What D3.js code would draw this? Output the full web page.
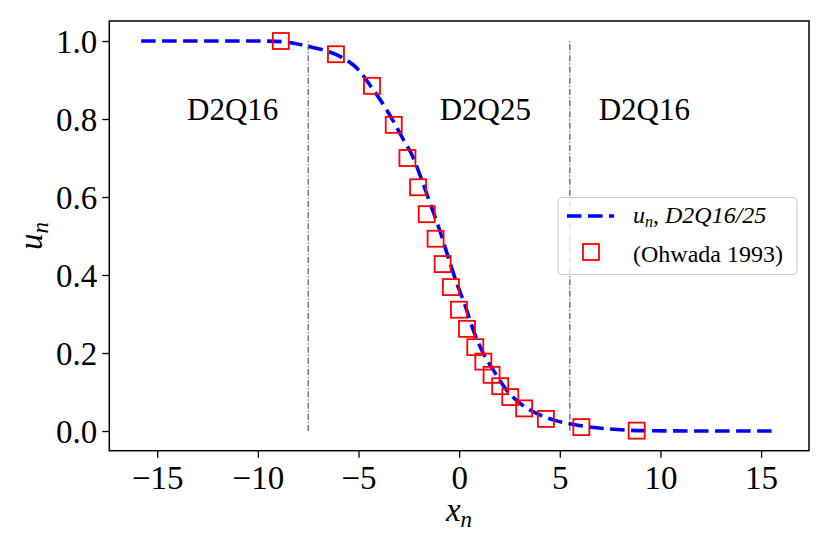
<!DOCTYPE html>
<html>
<head>
<meta charset="utf-8">
<script src="https://cdn.jsdelivr.net/npm/d3@7/dist/d3.min.js"></script>
<style>
  html, body { margin: 0; padding: 0; background: #fff; }
  svg { display: block; }
  text { font-family: "Liberation Serif", "DejaVu Serif", serif; fill: #000; }
</style>
</head>
<body>
<svg id="chart" width="830" height="550"></svg>
<script>
// ---- data ----
const lineX = [-15.8, -10, -8.7, -7.5, -6.5, -5.9, -5.0, -4.3, -3.8, -3.3, -2.8, -2.3, -1.9, -1.45, -1.0, -0.6, -0.12, 0.29, 0.7, 1.2, 1.7, 2.36, 3.0, 3.85, 4.85, 6.0, 7.5, 9.1, 12.0, 15.8];
const lineY = [1.0, 1.0, 0.998, 0.986, 0.973, 0.960, 0.926, 0.877, 0.840, 0.797, 0.750, 0.703, 0.650, 0.585, 0.520, 0.455, 0.379, 0.323, 0.259, 0.199, 0.156, 0.105, 0.072, 0.045, 0.026, 0.014, 0.005, 0.001, 0.0, 0.0];
const ohwadaX = [-8.86, -6.12, -4.33, -3.25, -2.57, -2.04, -1.61, -1.17, -0.82, -0.41, -0.01, 0.39, 0.80, 1.20, 1.61, 2.04, 2.54, 3.23, 4.31, 6.07, 8.82];
const ohwadaY = [1.0, 0.966, 0.885, 0.785, 0.700, 0.625, 0.556, 0.493, 0.428, 0.369, 0.311, 0.262, 0.215, 0.178, 0.144, 0.115, 0.087, 0.058, 0.031, 0.010, 0.001];
const xTicks = [-15, -10, -5, 0, 5, 10, 15];
const yTicks = [0.0, 0.2, 0.4, 0.6, 0.8, 1.0];
const boundaryX = [-7.5, 5.5];
const regionNames = ["D2Q16", "D2Q25", "D2Q16"];
const regionX = [-11.25, 1.3, 9.2];
const regionY = [0.798, 0.798, 0.798];

// ---- layout ----
const L = 109.3, R = 809, T = 21, B = 450.7;
const svg = d3.select("#chart");
const x = d3.scaleLinear().domain([-17.38, 17.38]).range([L, R]);
const y = d3.scaleLinear().domain([-0.0505, 1.0513]).range([B, T]);

// boundaries (dash-dot)
svg.append("g").selectAll("line").data(boundaryX).join("line")
  .attr("x1", d => x(d)).attr("x2", d => x(d))
  .attr("y1", y(0)).attr("y2", y(1))
  .attr("stroke", "#333").attr("stroke-width", 1)
  .attr("stroke-dasharray", "6,2,1.2,2");

// region labels
svg.append("g").selectAll("text").data(regionNames).join("text")
  .attr("x", (d, i) => x(regionX[i])).attr("y", (d, i) => y(regionY[i]))
  .attr("text-anchor", "middle").attr("font-size", 31)
  .text(d => d);

// line
const pts = lineX.map((v, i) => [v, lineY[i]]);
svg.append("path").datum(pts)
  .attr("d", d3.line().x(d => x(d[0])).y(d => y(d[1])).curve(d3.curveMonotoneX))
  .attr("fill", "none").attr("stroke", "#0000ff").attr("stroke-width", 3.6)
  .attr("stroke-dasharray", "14.5,6.5");

// squares
const sq = 16;
svg.append("g").selectAll("rect").data(ohwadaX.map((v, i) => [v, ohwadaY[i]])).join("rect")
  .attr("x", d => x(d[0]) - sq / 2).attr("y", d => y(d[1]) - sq / 2)
  .attr("width", sq).attr("height", sq)
  .attr("fill", "none").attr("stroke", "#ff0000").attr("stroke-width", 1.8);

// axes
const xAxis = svg.append("g").attr("transform", `translate(0,${B})`)
  .call(d3.axisBottom(x).tickValues(xTicks).tickSize(7).tickFormat(d3.format("d")));
xAxis.select(".domain").remove();
xAxis.selectAll(".tick line").attr("stroke-width", 1.3);
xAxis.selectAll(".tick text").attr("y", 38).attr("dy", null)
  .attr("font-size", 33).attr("font-family", "Liberation Serif, serif");

const yAxis = svg.append("g").attr("transform", `translate(${L},0)`)
  .call(d3.axisLeft(y).tickValues(yTicks).tickSize(7).tickFormat(d3.format(".1f")));
yAxis.select(".domain").remove();
yAxis.selectAll(".tick line").attr("stroke-width", 1.3);
yAxis.selectAll(".tick text").attr("x", -12).attr("dy", "0.34em")
  .attr("font-size", 33).attr("font-family", "Liberation Serif, serif");

// frame
svg.append("rect").attr("x", L).attr("y", T).attr("width", R - L).attr("height", B - T)
  .attr("fill", "none").attr("stroke", "#000").attr("stroke-width", 1.5);

// axis labels
const xl = svg.append("text").attr("x", 459).attr("y", 521).attr("text-anchor", "middle")
  .attr("font-size", 33).attr("font-style", "italic");
xl.append("tspan").text("x");
xl.append("tspan").attr("font-size", 23).attr("dy", 6).text("n");

const yl = svg.append("text").attr("transform", "translate(42,236) rotate(-90)")
  .attr("text-anchor", "middle").attr("font-size", 33).attr("font-style", "italic");
yl.append("tspan").text("u");
yl.append("tspan").attr("font-size", 23).attr("dy", 6).text("n");

// legend
const lg = svg.append("g");
lg.append("rect").attr("x", 558).attr("y", 197.5).attr("width", 239).attr("height", 77)
  .attr("rx", 4).attr("fill", "#fff").attr("fill-opacity", 0.8)
  .attr("stroke", "#cccccc").attr("stroke-width", 1.2);
lg.append("line").attr("x1", 567).attr("x2", 614).attr("y1", 216).attr("y2", 216)
  .attr("stroke", "#0000ff").attr("stroke-width", 3.6).attr("stroke-dasharray", "14.5,6.5");
lg.append("rect").attr("x", 591 - sq / 2).attr("y", 252 - sq / 2).attr("width", sq).attr("height", sq)
  .attr("fill", "none").attr("stroke", "#ff0000").attr("stroke-width", 1.8);
const t1 = lg.append("text").attr("x", 633).attr("y", 223).attr("font-size", 24);
t1.append("tspan").attr("font-style", "italic").text("u");
t1.append("tspan").attr("font-style", "italic").attr("font-size", 16).attr("dy", 4).text("n");
t1.append("tspan").attr("dy", -4).text(", ");
t1.append("tspan").attr("font-style", "italic").text("D2Q16/25");
lg.append("text").attr("x", 633).attr("y", 262).attr("font-size", 24).text("(Ohwada 1993)");
</script>
</body>
</html>
